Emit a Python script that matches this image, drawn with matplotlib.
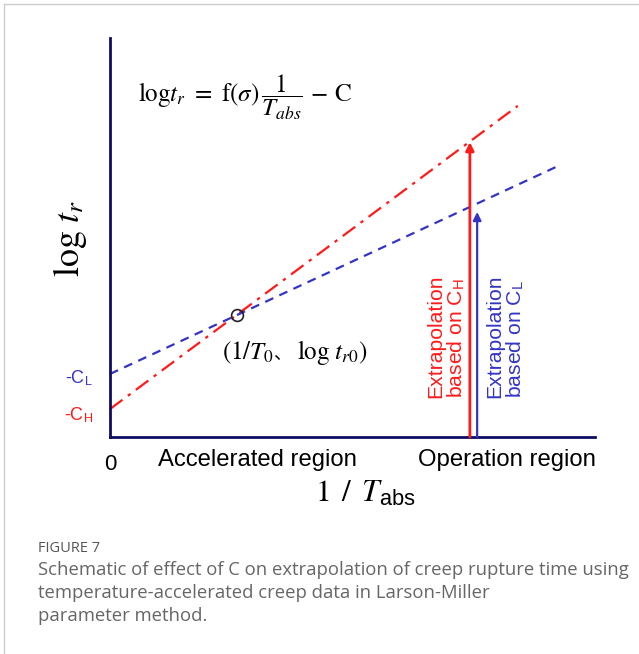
import matplotlib.pyplot as plt
from matplotlib.lines import Line2D

plt.rcParams['mathtext.fontset'] = 'custom'
plt.rcParams['mathtext.rm'] = 'STIXGeneral'
plt.rcParams['mathtext.it'] = 'STIXGeneral:italic'
plt.rcParams['mathtext.sf'] = 'Liberation Sans'

# schematic values (arbitrary units: 1/T on x, log t_r on y)
recip_t_high = [0.0, 8.41]
logtr_high = [0.70, 8.30]      # line for C_H (intercept -C_H)
recip_t_low = [0.0, 9.20]
logtr_low = [1.58, 6.77]       # line for C_L (intercept -C_L)
ref_point = (2.62, 3.06)       # (1/T0, log tr0)
op_x = [7.42, 7.57]            # extrapolation positions (C_H, C_L)
op_tip = [7.39, 5.64]

RED = '#ff1a1a'
BLUE = '#3434c4'
NAVY = '#0d0d66'
SANS = 'Liberation Sans'

fig = plt.figure(figsize=(6.39, 6.54), dpi=100)
W, H = 639, 654
ax = fig.add_axes([110 / W, 1 - 437 / H, 485 / W, 399 / H])
ax.set_xlim(0, 10)
ax.set_ylim(0, 10)
for s in ['top', 'right']:
    ax.spines[s].set_visible(False)
for s in ['left', 'bottom']:
    ax.spines[s].set_color(NAVY)
    ax.spines[s].set_linewidth(2.0)
ax.set_xticks([])
ax.set_yticks([])
ax.patch.set_alpha(0)

ax.plot(recip_t_high, logtr_high, color=RED, lw=1.6, linestyle=(0, (7, 3, 1.5, 3)), clip_on=False)
ax.plot(recip_t_low, logtr_low, color=BLUE, lw=1.6, linestyle=(0, (4, 3)), clip_on=False)
ax.plot(*ref_point, marker='o', ms=8.5, mfc='none', mec='#222222', mew=1.2)

ax.annotate('', xy=(op_x[0], op_tip[0]), xytext=(op_x[0], 0),
            arrowprops=dict(arrowstyle='-|>', color=RED, lw=2.0, mutation_scale=12, shrinkA=0, shrinkB=0))
ax.annotate('', xy=(op_x[1], op_tip[1]), xytext=(op_x[1], 0),
            arrowprops=dict(arrowstyle='-|>', color=BLUE, lw=1.6, mutation_scale=12, shrinkA=0, shrinkB=0))

# intercept labels
ax.text(-0.35, logtr_low[0] - 0.1, r'-C$_\mathsf{L}$', color=BLUE, fontsize=13, family=SANS,
        ha='right', va='center')
ax.text(-0.35, logtr_high[0] - 0.15, r'-C$_\mathsf{H}$', color=RED, fontsize=13, family=SANS,
        ha='right', va='center')

# region labels
ax.text(0, -0.42, '0', fontsize=16, family=SANS, ha='center', va='top')
ax.text(3.03, -0.3, 'Accelerated region', fontsize=17.2, family=SANS, ha='center', va='top')
ax.text(8.19, -0.3, 'Operation region', fontsize=17.2, family=SANS, ha='center', va='top')

# axis titles
ax.text(5.26, -1.05, r'$1\ \,/\ \,T_{\mathsf{abs}}$', fontsize=22.5, ha='center', va='top')
ax.text(-0.83, 4.98, r'$\log\,t_r$', fontsize=26, rotation=90, ha='center', va='center')

# equation
ax.text(0.57, 8.5, r'$\mathrm{log}t_r\ =\ \mathrm{f}(\sigma)\,\dfrac{1}{T_{abs}}\,-\,\mathrm{C}$',
        fontsize=18, ha='left', va='center')

# reference point label
t1 = ax.text(2.3, 1.95, r'$(1/T_{0}$', fontsize=18, ha='left', va='baseline')
t2 = ax.annotate('、', xy=(1, 1.95), xycoords=(t1, 'data'), fontsize=13,
                 family='Noto Sans CJK JP', ha='left', va='baseline')
ax.annotate(r'$\ \log\,t_{r0})$', xy=(1, 1.95), xycoords=(t2, 'data'), fontsize=18,
            ha='left', va='baseline')

# extrapolation labels
ax.text(6.95, 0.98, 'Extrapolation\n' + r'based on C$_\mathsf{H}$', color=RED, fontsize=15.2,
        family=SANS, rotation=90, ha='center', va='bottom', multialignment='left', linespacing=1.0)
ax.text(8.15, 0.98, 'Extrapolation\n' + r'based on C$_\mathsf{L}$', color=BLUE, fontsize=15.2,
        family=SANS, rotation=90, ha='center', va='bottom', multialignment='left', linespacing=1.0)

# caption
fig.text(38 / W, 1 - 548 / H, 'FIGURE 7', fontsize=10.5, family='Open Sans', color='#555555',
         ha='left', va='center')
fig.text(38 / W, 1 - 561 / H,
         'Schematic of effect of C on extrapolation of creep rupture time using\n'
         'temperature-accelerated creep data in Larson-Miller\n'
         'parameter method.',
         fontsize=13.3, family='Open Sans', color='#666666', ha='left', va='top', linespacing=1.37)

# card border
fig.add_artist(Line2D([4 / W, 4 / W], [0, 1 - 4 / H], color='#cccccc', lw=1, transform=fig.transFigure))
fig.add_artist(Line2D([4 / W, 1], [1 - 4 / H, 1 - 4 / H], color='#cccccc', lw=1, transform=fig.transFigure))

fig.savefig('out.png', dpi=100)
